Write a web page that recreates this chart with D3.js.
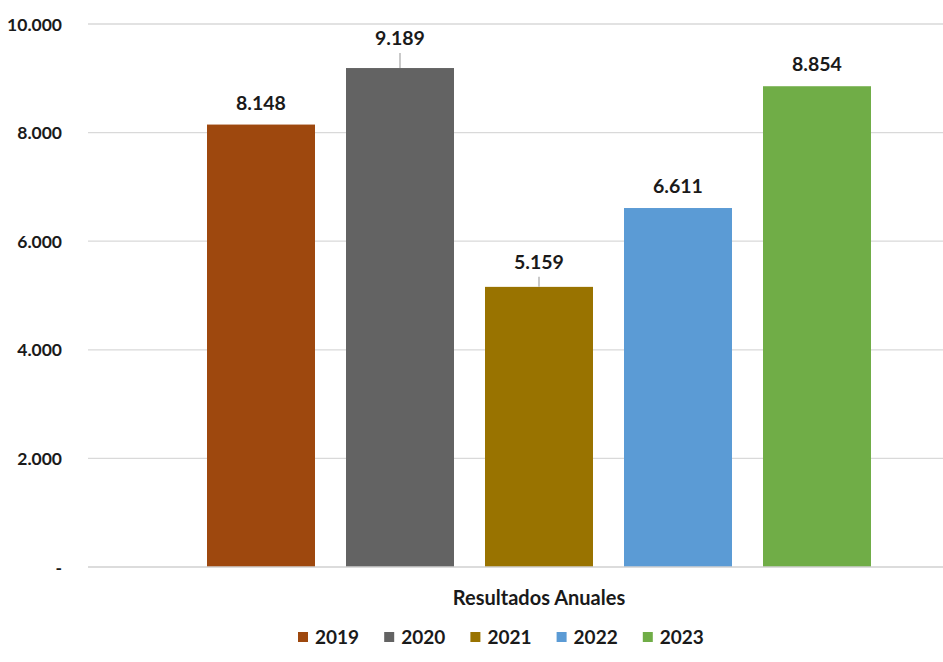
<!DOCTYPE html>
<html>
<head>
<meta charset="utf-8">
<script src="https://cdn.jsdelivr.net/npm/d3@7"></script>
<style>
  body { margin: 0; background: #fff; overflow: hidden; }
  text { font-family: Lato, "Open Sans", sans-serif; font-weight: bold; fill: #1a1a1a; }
</style>
</head>
<body>
<svg id="chart" width="943" height="662"></svg>
<script>
// data
var years = ['2019', '2020', '2021', '2022', '2023'];
var results = [8148, 9189, 5159, 6611, 8854];
var colors = ['#9E480E', '#636363', '#997300', '#5B9BD5', '#70AD47'];
var yTicks = [0, 2000, 4000, 6000, 8000, 10000];
var category = 'Resultados Anuales';

var svg = d3.select('#chart');
var margin = {left: 88, right: 990, top: 24, bottom: 567};

var fmt = function(v) {
  if (v === 0) return '-';
  return d3.format(',')(v).replace(/,/g, '.');
};

var y = d3.scaleLinear().domain([0, 10000]).range([margin.bottom, margin.top]);
var gap = 31 / 139;
var x = d3.scaleBand().domain(years)
  .range([191.5, 886.5])
  .paddingInner(gap).paddingOuter(gap / 2);

// gridlines
svg.append('g').selectAll('line').data(yTicks.filter(function(d) { return d > 0; }))
  .enter().append('line')
  .attr('x1', margin.left).attr('x2', margin.right)
  .attr('y1', function(d) { return y(d); }).attr('y2', function(d) { return y(d); })
  .style('stroke', '#d9d9d9').style('stroke-width', 1.3);

// y axis labels
var yAxis = d3.axisLeft(y).tickValues(yTicks).tickFormat(fmt).tickSize(0).tickPadding(0);
var gy = svg.append('g').attr('transform', 'translate(62,0)').call(yAxis);
gy.select('.domain').remove();
gy.selectAll('text').style('font-size', '17.5px').style('font-family', 'Lato, sans-serif')
  .attr('fill', '#1a1a1a').attr('dy', '0.35em');

// bars
svg.append('g').selectAll('rect').data(results).enter().append('rect')
  .attr('x', function(d, i) { return x(years[i]); })
  .attr('width', x.bandwidth())
  .attr('y', function(d) { return y(d); })
  .attr('height', function(d) { return y(0) - y(d); })
  .style('fill', function(d, i) { return colors[i]; });

// baseline
svg.append('line')
  .attr('x1', margin.left).attr('x2', margin.right)
  .attr('y1', y(0)).attr('y2', y(0))
  .style('stroke', '#d0d0d0').style('stroke-width', 1.5);

// value labels; 2020 and 2021 were dragged up, so they get a leader line
var lifted = {'2020': 23, '2021': 18};
var labels = svg.append('g');
results.forEach(function(v, i) {
  var cx = x(years[i]) + x.bandwidth() / 2;
  var top = y(v);
  var lift = lifted[years[i]] || 15;
  if (lifted[years[i]]) {
    labels.append('line')
      .attr('x1', cx).attr('x2', cx)
      .attr('y1', top).attr('y2', top - lift + 8)
      .style('stroke', '#a6a6a6').style('stroke-width', 1.2);
  }
  labels.append('text')
    .attr('x', cx).attr('y', top - lift)
    .attr('text-anchor', 'middle')
    .style('font-size', '19.5px')
    .text(fmt(v));
});

// category title
svg.append('text')
  .attr('x', (margin.left + margin.right) / 2).attr('y', 605)
  .attr('text-anchor', 'middle')
  .style('font-size', '20px')
  .text(category);

// legend
var legend = svg.append('g').attr('transform', 'translate(298,637)');
var item = legend.selectAll('g').data(years).enter().append('g')
  .attr('transform', function(d, i) { return 'translate(' + (i * 86.2) + ',0)'; });
item.append('rect').attr('x', 0).attr('y', -5).attr('width', 10).attr('height', 10)
  .style('fill', function(d, i) { return colors[i]; });
item.append('text').attr('x', 17).attr('y', 7)
  .style('font-size', '19px')
  .text(function(d) { return d; });
</script>
</body>
</html>
